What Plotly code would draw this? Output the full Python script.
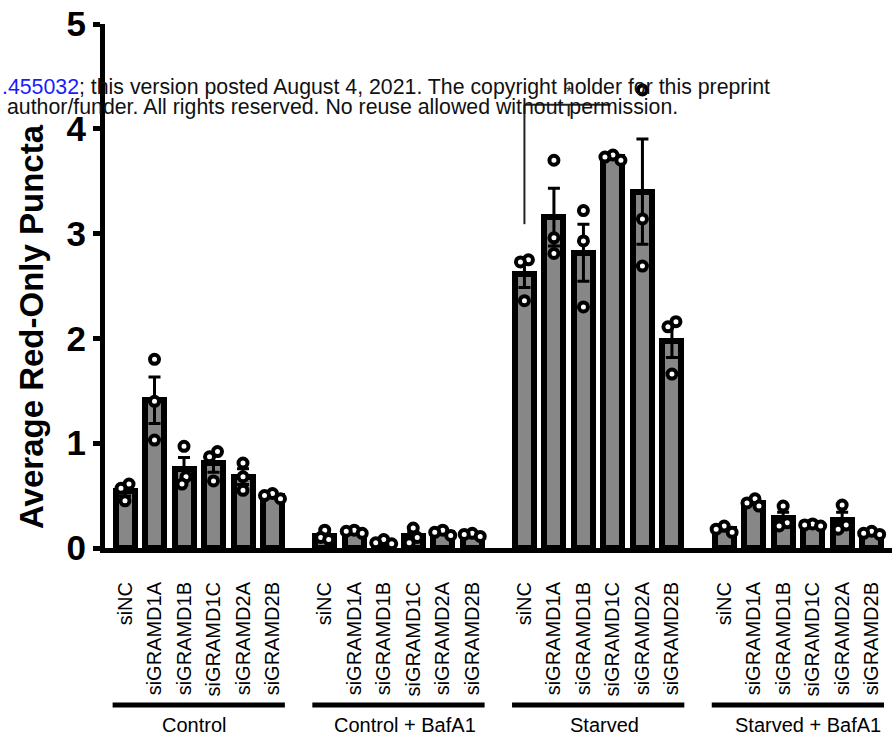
import numpy as np
import plotly.graph_objects as go

# ---- data -------------------------------------------------------------
conditions = ["Control", "Control + BafA1", "Starved", "Starved + BafA1"]
sirnas = ["siNC", "siGRAMD1A", "siGRAMD1B", "siGRAMD1C", "siGRAMD2A", "siGRAMD2B"]

# three replicates per siRNA (average red-only puncta per cell)
control = [[0.61, 0.57, 0.45], [1.80, 1.40, 1.03], [0.97, 0.68, 0.61],
           [0.92, 0.87, 0.64], [0.81, 0.68, 0.55], [0.52, 0.50, 0.47]]
control_bafa1 = [[0.17, 0.10, 0.08], [0.17, 0.16, 0.14], [0.08, 0.05, 0.04],
                 [0.19, 0.10, 0.05], [0.17, 0.15, 0.12], [0.14, 0.13, 0.11]]
starved = [[2.75, 2.73, 2.36], [3.70, 2.96, 2.81], [3.22, 2.93, 2.30],
           [3.75, 3.73, 3.70], [4.37, 3.14, 2.69], [2.16, 2.11, 1.66]]
starved_bafa1 = [[0.21, 0.18, 0.15], [0.47, 0.43, 0.40], [0.40, 0.24, 0.21],
                 [0.23, 0.22, 0.21], [0.41, 0.22, 0.18], [0.16, 0.14, 0.13]]

replicates = [control, control_bafa1, starved, starved_bafa1]

y_ticks = [0, 1, 2, 3, 4, 5]
y_title = "Average Red-Only Puncta"

# significance bracket: Starved siNC vs Starved siGRAMD1C
sig_group = 2
sig_pair = (0, 3)
sig_label = "*"

header_doi = ".455032"
header_line1 = "; this version posted August 4, 2021. The copyright holder for this preprint"
header_line2 = "author/funder. All rights reserved. No reuse allowed without permission."

# ---- geometry ---------------------------------------------------------
W, H = 892, 736
M_L, M_R, M_T, M_B = 105, 0, 24, 188
PLOT_W = W - M_L - M_R
PLOT_H = H - M_T - M_B
GROUP_STEP = 6.77
X_RANGE = [-0.678, 26.0]
PX_X = PLOT_W / (X_RANGE[1] - X_RANGE[0])
PX_Y = PLOT_H / 5.0

# sideways nudge (px) of each condition name under its underline
LABEL_NUDGE = [-5, 7, 6, 10]

FONT = "Arial, Liberation Sans, sans-serif"
BAR_GREY = "#878787"


def px_to_paper_x(px):
    return (px - M_L) / PLOT_W


def px_to_paper_y(py):
    return (H - M_B - py) / PLOT_H


def swarm_offsets(vals, min_d=8.0, step=4.0):
    """Spread overlapping replicate dots sideways (in x data units)."""
    vals = np.asarray(vals, dtype=float)
    order = np.argsort(vals)[::-1]
    placed = []
    off = np.zeros(len(vals))
    cands = [0.0]
    for n in range(1, 10):
        cands += [-n * step, n * step]
    for i in order:
        y = vals[i] * PX_Y
        for c in cands:
            if all(np.hypot(c - dx, y - py) >= min_d for dx, py in placed):
                break
        placed.append((c, y))
        off[i] = c
    # centre every run of close values on the bar
    run = [order[0]]
    runs = []
    for a, b in zip(order[:-1], order[1:]):
        if (vals[a] - vals[b]) * PX_Y < min_d:
            run.append(b)
        else:
            runs.append(run)
            run = [b]
    runs.append(run)
    for r in runs:
        off[r] -= off[r].mean()
    return off / PX_X


xs, means, sems, tick_x, tick_text = [], [], [], [], []
pt_x, pt_y = [], []
for g, cond in enumerate(replicates):
    for j, reps in enumerate(cond):
        x = g * GROUP_STEP + j
        arr = np.array(reps)
        xs.append(x)
        means.append(arr.mean())
        sems.append(arr.std(ddof=1) / np.sqrt(len(arr)))
        tick_x.append(x)
        tick_text.append(sirnas[j])
        for dx, v in zip(swarm_offsets(arr), arr):
            pt_x.append(x + dx)
            pt_y.append(v)

fig = go.Figure()

fig.add_trace(go.Bar(
    x=xs, y=means, width=0.644,
    marker=dict(color=BAR_GREY, line=dict(color="black", width=6)),
    error_y=dict(type="data", array=sems, visible=True,
                 color="black", thickness=3, width=6),
    showlegend=False, hoverinfo="skip",
))

fig.add_trace(go.Scatter(
    x=pt_x, y=pt_y, mode="markers",
    marker=dict(symbol="circle", size=9, color="white",
                line=dict(color="black", width=4)),
    showlegend=False, hoverinfo="skip", cliponaxis=False,
))

shapes = []
annotations = []

# group underlines and condition names
for g, name in enumerate(conditions):
    c = g * GROUP_STEP + 2.5
    shapes.append(dict(type="line", xref="x", yref="paper",
                       x0=c - 2.92, x1=c + 2.92,
                       y0=px_to_paper_y(705), y1=px_to_paper_y(705),
                       line=dict(color="black", width=5)))
    annotations.append(dict(x=c + LABEL_NUDGE[g] / PX_X, y=px_to_paper_y(725),
                            xref="x", yref="paper",
                            text=name, showarrow=False, xanchor="center",
                            yanchor="middle",
                            font=dict(family=FONT, size=20, color="black")))

# significance bracket
xa = sig_group * GROUP_STEP + sig_pair[0]
xb = sig_group * GROUP_STEP + sig_pair[1]
xm = (xa + xb) / 2
bracket_y = 4.23
line_style = dict(color="#222222", width=2)
shapes += [
    dict(type="line", xref="x", yref="y", x0=xa, x1=xa, y0=3.09, y1=bracket_y, line=line_style),
    dict(type="line", xref="x", yref="y", x0=xa, x1=xb - 0.08, y0=bracket_y, y1=bracket_y, line=line_style),
    dict(type="line", xref="x", yref="y", x0=xm, x1=xm, y0=bracket_y, y1=4.12, line=line_style),
]
annotations.append(dict(x=xm, y=4.35, xref="x", yref="y", text=sig_label,
                        showarrow=False, xanchor="center", yanchor="middle",
                        font=dict(family=FONT, size=16, color="#222222")))

# y-axis title
annotations.append(dict(x=px_to_paper_x(31), y=px_to_paper_y(327), xref="paper", yref="paper",
                        text=y_title, textangle=-90, showarrow=False,
                        xanchor="center", yanchor="middle",
                        font=dict(family=FONT, size=33, color="black", weight="bold")))

# preprint header lines
annotations.append(dict(x=px_to_paper_x(0), y=px_to_paper_y(87), xref="paper", yref="paper",
                        text=f"<span style='color:#1a1aff'>{header_doi}</span>{header_line1}",
                        showarrow=False, xanchor="left", yanchor="middle", align="left",
                        font=dict(family=FONT, size=21.3, color="#111111")))
annotations.append(dict(x=px_to_paper_x(5), y=px_to_paper_y(107), xref="paper", yref="paper",
                        text=header_line2,
                        showarrow=False, xanchor="left", yanchor="middle", align="left",
                        font=dict(family=FONT, size=21.3, color="#111111")))

fig.update_layout(
    width=W, height=H,
    margin=dict(l=M_L, r=M_R, t=M_T, b=M_B, pad=0),
    paper_bgcolor="white", plot_bgcolor="white",
    bargap=0,
    shapes=shapes, annotations=annotations,
    xaxis=dict(range=X_RANGE, tickmode="array", tickvals=tick_x, ticktext=tick_text,
               tickangle=-90, ticks="", showline=True, linecolor="black", linewidth=5,
               showgrid=False, zeroline=False, ticklabelstandoff=21,
               tickfont=dict(family=FONT, size=20, color="black")),
    yaxis=dict(range=[0, 5], tickmode="array", tickvals=y_ticks,
               ticks="outside", ticklen=7, tickwidth=5, tickcolor="black",
               showline=True, linecolor="black", linewidth=5,
               showgrid=False, zeroline=False,
               tickfont=dict(family=FONT, size=35, color="black", weight="bold")),
)

fig.write_html("out.html")
